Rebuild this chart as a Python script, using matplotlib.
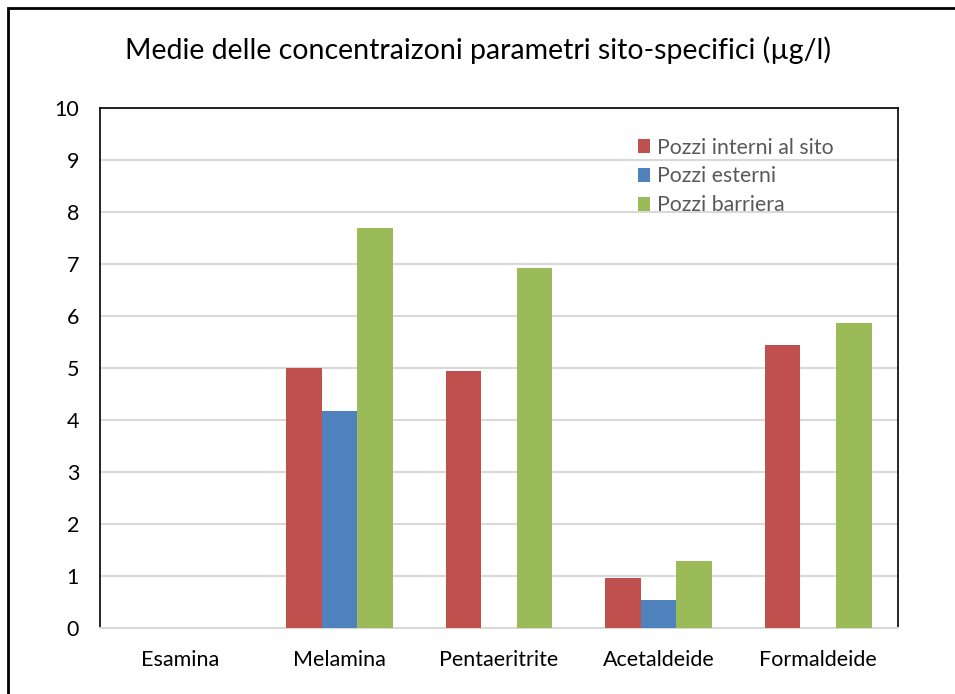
import numpy as np
import matplotlib.pyplot as plt
from matplotlib.patches import Rectangle

plt.rcParams['font.family'] = ['Lato', 'DejaVu Sans']

# Dati del grafico
categorie = ['Esamina', 'Melamina', 'Pentaeritrite', 'Acetaldeide', 'Formaldeide']
pozzi_interni = [0, 5.0, 4.95, 0.96, 5.45]
pozzi_esterni = [0, 4.17, 0, 0.54, 0]
pozzi_barriera = [0, 7.7, 6.93, 1.28, 5.87]
serie = ['Pozzi interni al sito', 'Pozzi esterni', 'Pozzi barriera']
colori = ['#C0504D', '#4F81BD', '#9BBB59']

fig = plt.figure(figsize=(9.55, 6.94), dpi=100)
ax = fig.add_axes([100/955, 66/694, 798/955, 520/694])

x = np.arange(len(categorie))
w = 0.223
for i, (vals, nome, col) in enumerate(zip([pozzi_interni, pozzi_esterni, pozzi_barriera], serie, colori)):
    ax.bar(x + (i - 1) * w, vals, width=w, color=col, label=nome, zorder=3)

ax.set_xlim(-0.5, len(categorie) - 0.5)
ax.set_ylim(0, 10)
ax.set_yticks(range(0, 11))
ax.set_xticks(x)
ax.set_xticklabels(categorie, fontsize=15.5)
ax.tick_params(axis='y', labelsize=15.5, length=0, pad=15)
ax.tick_params(axis='x', length=0, pad=16)
ax.yaxis.grid(True, color='#D9D9D9', linewidth=1.5, zorder=0)
for s in ['left', 'right', 'top']:
    ax.spines[s].set_color('black')
    ax.spines[s].set_linewidth(1.2)
ax.spines['bottom'].set_color('#D9D9D9')
ax.spines['bottom'].set_linewidth(1.5)

fig.text(0.5, 1 - 50/694, 'Medie delle concentraizoni parametri sito-specifici (\u00b5g/l)',
         ha='center', va='center', fontsize=20.5)

leg = ax.legend(loc='upper left', bbox_to_anchor=(0.65, 0.98), frameon=False,
                fontsize=15.3, handlelength=0.55, handleheight=0.6, handletextpad=0.35,
                labelspacing=0.42, labelcolor='#595959')

# Cornice della figura
fig.patches.append(Rectangle((8/955, -0.05), 1.1, 1 - 8/694 + 0.05, transform=fig.transFigure,
                             fill=False, edgecolor='black', linewidth=2))

fig.savefig('out.png', dpi=100)
